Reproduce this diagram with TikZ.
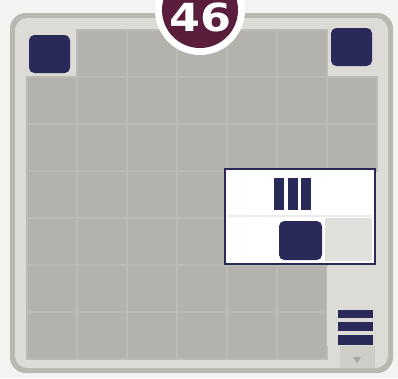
\documentclass[tikz,border=0pt]{standalone}
\usepackage{fontspec}
\newfontfamily\badgefont{DejaVu Sans}
\definecolor{bg}{HTML}{F3F3F1}
\definecolor{rim}{HTML}{B9B7B1}
\definecolor{frame}{HTML}{DCDBD6}
\definecolor{cell}{HTML}{B4B2AC}
\definecolor{cellline}{HTML}{BCBAB4}
\definecolor{navy}{HTML}{2A2A5A}
\definecolor{maroon}{HTML}{5A1E3C}
\definecolor{panelgray}{HTML}{E0E0DD}
\definecolor{tab}{HTML}{CFCDC8}
\begin{document}
\begin{tikzpicture}[x=0.01cm,y=-0.01cm,
  navyblock/.style={fill=navy,rounded corners=1.5pt},
  bar/.style={fill=navy},
  gridcell/.style={fill=cell,draw=cellline,line width=0.4pt}]
\useasboundingbox (0,0) rectangle (398,378);
\fill[bg] (0,0) rectangle (398,378);
% card
\fill[rim,rounded corners=4.5pt] (10,13) rectangle (393,373);
\fill[frame,rounded corners=3.5pt] (15,18) rectangle (388,368);
% grid cells
\foreach \c in {0,...,6}{
  \foreach \r in {0,...,6}{
    \pgfmathtruncatemacro{\skip}{
      (\c==0 && \r==0) || (\c==6 && \r==0) || (\c>=4 && (\r==3 || \r==4)) || (\c==6 && \r>=5) ? 1 : 0}
    \ifnum\skip=0
      \draw[gridcell] ({27+50*\c},{30+47*\r}) rectangle ({27+50*(\c+1)},{30+47*(\r+1)});
    \fi
  }
}
% corner squares
\fill[navyblock] (29,35) rectangle (70,73);
\fill[navyblock] (331,28) rectangle (372,66);
% panel
\draw[fill=white,draw=navy,line width=0.8pt] (225,169) rectangle (375,264);
\draw[panelgray!60,line width=0.3pt] (228,216) -- (372,216);
\fill[panelgray] (325,218) rectangle (372,261);
\fill[navyblock] (279,221) rectangle (322,260);
\fill[bar] (274,178) rectangle (284,210);
\fill[bar] (288,178) rectangle (298,210);
\fill[bar] (301,178) rectangle (311,210);
% bottom right
\fill[tab] (340,346) rectangle (375,368);
\fill[frame] (327,266) rectangle (375,346);
\fill[bar] (338,310) rectangle (373,318);
\fill[bar] (338,322) rectangle (373,331);
\fill[bar] (338,335) rectangle (373,345);
\fill[rim!90!black] (353,357) -- (361,357) -- (357,363) -- cycle;
% badge
\fill[white] (200,10) circle (45);
\fill[maroon] (200,10) circle (38);
\node[text=white,font=\badgefont\bfseries\fontsize{11}{11}\selectfont,xscale=1.15,inner sep=0] (badge) at (200,17) {46};
\end{tikzpicture}
\end{document}
